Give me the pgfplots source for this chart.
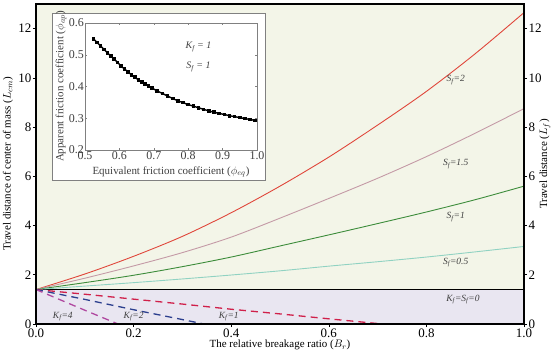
\documentclass[border=0pt]{standalone}
\usepackage{pgfplots}
\pgfplotsset{compat=1.18}
\usepackage{fontspec}
\setmainfont{Liberation Serif}
\definecolor{bgup}{HTML}{F3F5E8}
\definecolor{bglow}{HTML}{E9E6F1}
\definecolor{cS2}{HTML}{E0463A}
\definecolor{cS15}{HTML}{C49AA6}
\definecolor{cS1}{HTML}{3C8C3A}
\definecolor{cS05}{HTML}{90D2C2}
\definecolor{cK1}{HTML}{D0204A}
\definecolor{cK2}{HTML}{2C3F8E}
\definecolor{cK4}{HTML}{B048A0}
\definecolor{lbl}{HTML}{404040}
\begin{document}
\begin{tikzpicture}
\useasboundingbox (-36bp,-33bp) rectangle (518bp,324bp);
\begin{axis}[
  at={(0,0)}, anchor=south west,
  width=488bp, height=320bp, scale only axis,
  xmin=0, xmax=1, ymin=0, ymax=13,
  xtick={0,0.2,0.4,0.6,0.8,1.0},
  ytick={0,2,4,6,8,10,12},
  xticklabel style={/pgf/number format/.cd,fixed,fixed zerofill,precision=1},
  /pgf/number format/assume math mode=true,
  xtick pos=bottom, ytick pos=left,
  tick align=outside,
  major tick length=3bp,
  axis line style={line width=1.1pt},
  tick style={black, line width=0.6pt},
  ticklabel style={font=\fontsize{13}{15}\selectfont, inner sep=1.5bp},
  label style={font=\fontsize{11}{13}\selectfont},
  xlabel={The relative breakage ratio ($B_r$)},
  ylabel={Travel distance of center of mass ($L_{cm}$)},
  xlabel style={at={([yshift=-21bp]axis description cs:0.5,0)}, anchor=center},
  ylabel style={at={([xshift=-28bp]axis description cs:0,0.5)}, anchor=center},
  axis on top,
  clip=true,
]
\fill[bgup] (axis cs:0,1.4) rectangle (axis cs:1,13);
\fill[bglow] (axis cs:0,0) rectangle (axis cs:1,1.4);
\draw[black, line width=1.1pt] (axis cs:0,1.4) -- (axis cs:1,1.4);
% S_f = 2
\addplot[cS2, line width=0.9pt, smooth] coordinates {
(0,1.4) (0.1,2.03) (0.2,2.75) (0.3,3.56) (0.4,4.52) (0.5,5.6) (0.6,6.78) (0.7,8.08) (0.8,9.45) (0.9,10.98) (1.0,12.65)};
% S_f = 1.5
\addplot[cS15, line width=0.9pt, smooth] coordinates {
(0,1.4) (0.1,1.86) (0.2,2.36) (0.3,2.9) (0.4,3.53) (0.5,4.3) (0.6,5.1) (0.7,5.92) (0.8,6.8) (0.9,7.75) (1.0,8.75)};
% S_f = 1
\addplot[cS1, line width=0.9pt, smooth] coordinates {
(0,1.4) (0.1,1.68) (0.2,1.98) (0.3,2.33) (0.4,2.72) (0.5,3.17) (0.6,3.62) (0.7,4.08) (0.8,4.55) (0.9,5.05) (1.0,5.6)};
% S_f = 0.5
\addplot[cS05, line width=0.9pt, smooth] coordinates {
(0,1.4) (0.1,1.54) (0.2,1.68) (0.3,1.83) (0.4,1.99) (0.5,2.16) (0.6,2.35) (0.7,2.53) (0.8,2.72) (0.9,2.93) (1.0,3.15)};
% K_f = 1
\addplot[cK1, line width=1.3pt, dash pattern=on 7bp off 5bp] coordinates {
(0,1.4) (0.1,1.21) (0.2,1.01) (0.3,0.81) (0.4,0.6) (0.5,0.41) (0.6,0.21) (0.71,0)};
% K_f = 2
\addplot[cK2, line width=1.3pt, dash pattern=on 7bp off 5bp] coordinates {
(0,1.4) (0.1,1.0) (0.2,0.58) (0.3,0.18) (0.344,0)};
% K_f = 4
\addplot[cK4, line width=1.3pt, dash pattern=on 7bp off 5bp] coordinates {
(0,1.4) (0.05,0.98) (0.1,0.56) (0.168,0)};
\begin{scope}[every node/.style={font=\fontsize{9.5}{10}\selectfont\itshape, text=lbl}]
\node at (axis cs:0.86,9.9) {S\textsubscript{f}=2};
\node at (axis cs:0.86,6.5) {S\textsubscript{f}=1.5};
\node at (axis cs:0.86,4.35) {S\textsubscript{f}=1};
\node at (axis cs:0.86,2.5) {S\textsubscript{f}=0.5};
\node at (axis cs:0.875,1.0) {K\textsubscript{f}=S\textsubscript{f}=0};
\node at (axis cs:0.055,0.3) {K\textsubscript{f}=4};
\node at (axis cs:0.2,0.3) {K\textsubscript{f}=2};
\node at (axis cs:0.395,0.3) {K\textsubscript{f}=1};
\end{scope}
\end{axis}
\begin{axis}[
  at={(0,0)}, anchor=south west,
  width=488bp, height=320bp, scale only axis,
  xmin=0, xmax=1, ymin=0, ymax=13,
  xtick=\empty,
  ytick={0,2,4,6,8,10,12},
  ytick pos=right, yticklabel pos=right,
  /pgf/number format/assume math mode=true,
  tick align=outside,
  major tick length=3bp,
  axis line style={draw=none},
  tick style={black, line width=0.6pt},
  ticklabel style={font=\fontsize{13}{15}\selectfont, inner sep=1.5bp},
  label style={font=\fontsize{11}{13}\selectfont},
  ylabel={Travel distance ($L_f$)},
  ylabel style={at={([xshift=21bp]axis description cs:1,0.5)}, anchor=center},
]
\end{axis}
\draw[gray, line width=0.7pt, fill=white] (16bp,144bp) rectangle (229bp,311bp);
\begin{axis}[
  at={(49bp,174bp)}, anchor=south west,
  width=172bp, height=127bp, scale only axis,
  xmin=0.5, xmax=1.0, ymin=0.2, ymax=0.6,
  xtick={0.5,0.6,0.7,0.8,0.9,1.0},
  ytick={0.2,0.3,0.4,0.5,0.6},
  xticklabel style={/pgf/number format/.cd,fixed,fixed zerofill,precision=1},
  yticklabel style={/pgf/number format/.cd,fixed,fixed zerofill,precision=1},
  /pgf/number format/assume math mode=true,
  tick align=inside,
  major tick length=2bp,
  axis line style={gray, line width=0.7pt},
  tick style={gray},
  ticklabel style={font=\fontsize{12}{13}\selectfont, text=lbl, inner sep=1bp},
  label style={font=\fontsize{11}{12}\selectfont, text=lbl},
  xlabel={Equivalent friction coefficient ($\phi_{eq}$)},
  ylabel={Apparent friction coefficient ($\phi_{ap}$)},
  xlabel style={at={([yshift=-22bp]axis description cs:0.5,0)}, anchor=center},
  ylabel style={at={([xshift=-24bp]axis description cs:0,0.5)}, anchor=center},
]
\addplot[black, line width=1.4pt, mark=square*, mark size=1.1pt] coordinates {
(0.525,0.550) (0.535,0.539) (0.545,0.528) (0.555,0.517) (0.565,0.506) (0.575,0.496) (0.585,0.486) (0.595,0.476)
(0.605,0.464) (0.615,0.455) (0.625,0.446) (0.635,0.437) (0.645,0.429) (0.655,0.421) (0.665,0.414) (0.675,0.407)
(0.685,0.401) (0.695,0.395) (0.71,0.386) (0.725,0.378) (0.74,0.370) (0.755,0.362) (0.77,0.355) (0.785,0.349)
(0.80,0.343) (0.815,0.338) (0.83,0.333) (0.845,0.328) (0.86,0.323) (0.875,0.319) (0.89,0.315) (0.905,0.312)
(0.92,0.308) (0.935,0.305) (0.95,0.302) (0.965,0.299) (0.98,0.296) (0.995,0.293)};
\node[font=\fontsize{10}{11}\selectfont\itshape, text=lbl] at (axis cs:0.83,0.524) {K\textsubscript{f} = 1};
\node[font=\fontsize{10}{11}\selectfont\itshape, text=lbl] at (axis cs:0.83,0.461) {S\textsubscript{f} = 1};
\end{axis}
\end{tikzpicture}
\end{document}
